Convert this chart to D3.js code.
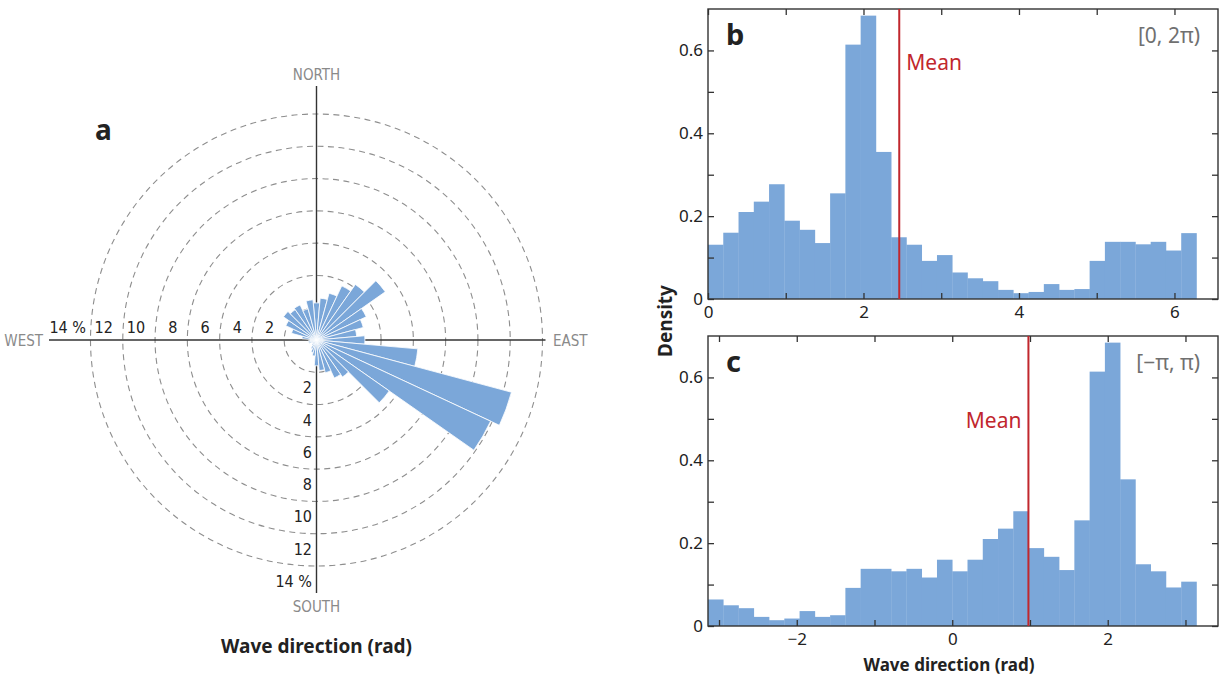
<!DOCTYPE html>
<html>
<head>
<meta charset="utf-8">
<script src="https://cdn.jsdelivr.net/npm/d3@7"></script>
<style>
  body { margin: 0; background: #fff; }
  svg { display: block; }
  .narrow { font-family: 'DejaVu Sans', sans-serif; font-stretch: condensed; }
</style>
</head>
<body>
<svg id="chart" width="1222" height="677"></svg>
<script>
const barColor = "#7ba7d9"
const meanColor = "#c1272d"
const axisColor = "#333"
const labelFont = "'Noto Sans', 'Open Sans', sans-serif"

// panel a: percent of observations per 10 degree sector, sector centres in degrees from north
const roseSectors = d3.range(0, 360, 10)
const rosePercent = [2.3, 2.6, 3.0, 3.7, 4.2, 5.2, 3.4, 3.0, 2.5, 3.0, 6.3, 12.5,
                     11.9, 5.5, 2.8, 2.6, 2.1, 1.9, 1.6, 1.0, 0.8, 0.6, 0.4, 0.3,
                     0.3, 0.5, 0.5, 0.4, 0.9, 1.6, 2.1, 2.5, 2.3, 2.4, 2.0, 2.5]
const roseRings = [2, 4, 6, 8, 10, 12, 14]
const compass = ["NORTH", "EAST", "SOUTH", "WEST"]

// panel b: density, 32 bins on [0, 2pi)
const densityB = [0.131, 0.160, 0.210, 0.235, 0.277, 0.189, 0.167, 0.135,
                  0.255, 0.614, 0.684, 0.355, 0.149, 0.131, 0.092, 0.106,
                  0.064, 0.050, 0.043, 0.022, 0.014, 0.017, 0.036, 0.022,
                  0.024, 0.092, 0.138, 0.138, 0.132, 0.138, 0.117, 0.159]
const meanB = 2.46

// panel c: density, 32 bins on [-pi, pi)
const densityC = [0.064, 0.050, 0.043, 0.022, 0.014, 0.018, 0.036, 0.022,
                  0.026, 0.092, 0.138, 0.138, 0.132, 0.138, 0.117, 0.160,
                  0.132, 0.160, 0.210, 0.235, 0.277, 0.188, 0.167, 0.135,
                  0.255, 0.614, 0.684, 0.354, 0.149, 0.132, 0.093, 0.107]
const meanC = 0.98

const xTicksB = [0, 1, 2, 3, 4, 5, 6]
const xLabelsB = [0, 2, 4, 6]
const xTicksC = [-3, -2, -1, 0, 1, 2, 3]
const xLabelsC = [-2, 0, 2]
const yTicks = [0, 0.1, 0.2, 0.3, 0.4, 0.5, 0.6]
const yLabels = [0, 0.2, 0.4, 0.6]

const svg = d3.select("#chart")

// ---------- panel a: rose ----------
const cx = 316.5
const cy = 340
const r = d3.scaleLinear().domain([0, 14]).range([0, 226])

const gA = svg.append("g").attr("transform", `translate(${cx}, ${cy})`)

gA.selectAll(".ring")
    .data(roseRings)
    .join("circle")
        .attr("class", "ring")
        .attr("r", d => r(d))
        .attr("fill", "none")
        .attr("stroke", "#8e8e8e")
        .attr("stroke-width", 1.1)
        .attr("stroke-dasharray", "6,4.5")

gA.append("line")
    .attr("x1", -267.5).attr("x2", 229)
    .attr("stroke", axisColor).attr("stroke-width", 1.4)
gA.append("line")
    .attr("y1", -254).attr("y2", 253)
    .attr("stroke", axisColor).attr("stroke-width", 1.4)

const arc = d3.arc().innerRadius(0)
const rad = deg => deg * Math.PI / 180

gA.selectAll(".petal")
    .data(rosePercent)
    .join("path")
        .attr("class", "petal")
        .attr("d", (d, i) => arc({
            outerRadius: r(d),
            startAngle: rad(roseSectors[i] - 5),
            endAngle: rad(roseSectors[i] + 5)
        }))
        .attr("fill", barColor)
        .attr("stroke", "#fff")
        .attr("stroke-width", 0.8)

// ring labels along west and south
gA.selectAll(".wlab")
    .data(roseRings)
    .join("text")
        .attr("class", "narrow")
        .attr("x", d => d === 14 ? -r(d) - 4.5 : -r(d) - 10)
        .attr("y", -7)
        .attr("text-anchor", "end")
        .style("font-size", "16px")
        .style("fill", "#222")
        .text(d => d === 14 ? "14 %" : d)

gA.selectAll(".slab")
    .data(roseRings)
    .join("text")
        .attr("class", "narrow")
        .attr("x", -4.5)
        .attr("y", d => r(d) + 21)
        .attr("text-anchor", "end")
        .style("font-size", "16px")
        .style("fill", "#222")
        .text(d => d === 14 ? "14 %" : d)

const compassPos = {
    NORTH: [0, -260, "middle"],
    EAST: [236.5, 6, "start"],
    SOUTH: [0, 272, "middle"],
    WEST: [-273.5, 6, "end"]
}
gA.selectAll(".dir")
    .data(compass)
    .join("text")
        .attr("class", "narrow")
        .attr("x", d => compassPos[d][0])
        .attr("y", d => compassPos[d][1])
        .attr("text-anchor", d => compassPos[d][2])
        .style("font-size", "15px")
        .style("fill", "#8a8a8a")
        .text(d => d)

svg.append("text")
    .attr("x", 95).attr("y", 140)
    .style("font-family", labelFont)
    .style("font-weight", "bold")
    .style("font-size", "28px")
    .style("fill", "#222")
    .text("a")

svg.append("text")
    .attr("x", cx).attr("y", 653)
    .attr("text-anchor", "middle")
    .style("font-family", labelFont)
    .style("font-weight", "bold")
    .style("font-size", "19px")
    .style("fill", "#222")
    .text("Wave direction (rad)")

// ---------- panels b and c: histograms ----------
const left = 708
const right = 1218
const binW = 2 * Math.PI / 32
const span = 6.56

function histPanel(opt) {
    const x = d3.scaleLinear().domain([opt.lo, opt.lo + span]).range([left, right])
    const y = d3.scaleLinear().domain([0, 0.7]).range([opt.bottom, opt.top])
    const g = svg.append("g")

    g.selectAll(".bar")
        .data(opt.values)
        .join("rect")
            .attr("class", "bar")
            .attr("x", (d, i) => x(opt.lo + i * binW))
            .attr("width", (d, i) => x(opt.lo + (i + 1) * binW) - x(opt.lo + i * binW) + 0.3)
            .attr("y", d => y(d))
            .attr("height", d => y(0) - y(d))
            .attr("fill", barColor)

    const fmt = d3.format("")
    const styleAxis = sel => {
        sel.select(".domain").remove()
        sel.selectAll(".tick line").attr("stroke", axisColor).attr("stroke-width", 1.3)
        sel.selectAll(".tick text")
            .style("font-family", labelFont)
            .style("font-size", "17px")
            .style("fill", "#222")
    }

    g.append("g")
        .attr("transform", `translate(0, ${opt.bottom})`)
        .call(d3.axisBottom(x).tickValues(opt.xTicks).tickSize(-6).tickPadding(7)
            .tickFormat(d => opt.xLabels.includes(d) ? fmt(d) : ""))
        .call(styleAxis)
    g.append("g")
        .attr("transform", `translate(0, ${opt.top})`)
        .call(d3.axisTop(x).tickValues(opt.xTicks).tickSize(-6).tickFormat(""))
        .call(styleAxis)
    g.append("g")
        .attr("transform", `translate(${left}, 0)`)
        .call(d3.axisLeft(y).tickValues(yTicks).tickSize(-6).tickPadding(5)
            .tickFormat(d => yLabels.includes(d) ? d3.format("")(d) : ""))
        .call(styleAxis)
    g.append("g")
        .attr("transform", `translate(${right}, 0)`)
        .call(d3.axisRight(y).tickValues(yTicks).tickSize(-6).tickFormat(""))
        .call(styleAxis)

    g.append("rect")
        .attr("x", left).attr("y", opt.top)
        .attr("width", right - left).attr("height", opt.bottom - opt.top)
        .attr("fill", "none")
        .attr("stroke", axisColor)
        .attr("stroke-width", 1.4)

    g.append("line")
        .attr("x1", x(opt.mean)).attr("x2", x(opt.mean))
        .attr("y1", y(0)).attr("y2", y(0.7))
        .attr("stroke", meanColor)
        .attr("stroke-width", 2)

    g.append("text")
        .attr("x", x(opt.mean) + opt.meanDx)
        .attr("y", opt.meanY)
        .attr("text-anchor", opt.meanDx > 0 ? "start" : "end")
        .style("font-family", labelFont)
        .style("font-size", "21px")
        .style("fill", meanColor)
        .text("Mean")

    g.append("text")
        .attr("x", 726).attr("y", opt.top + 36)
        .style("font-family", labelFont)
        .style("font-weight", "bold")
        .style("font-size", "29px")
        .style("fill", "#222")
        .text(opt.letter)

    g.append("text")
        .attr("x", 1200).attr("y", opt.top + 34)
        .attr("text-anchor", "end")
        .style("font-family", labelFont)
        .style("font-size", "21px")
        .style("fill", "#707070")
        .text(opt.range)
}

histPanel({
    lo: 0, top: 9, bottom: 299, values: densityB, mean: meanB,
    xTicks: xTicksB, xLabels: xLabelsB, letter: "b", range: "[0, 2\u03c0)",
    meanDx: 7, meanY: 70
})

histPanel({
    lo: -Math.PI, top: 336, bottom: 626, values: densityC, mean: meanC,
    xTicks: xTicksC, xLabels: xLabelsC, letter: "c", range: "[\u2212\u03c0, \u03c0)",
    meanDx: -7, meanY: 428
})

svg.append("text")
    .attr("transform", "translate(672, 321) rotate(-90)")
    .attr("text-anchor", "middle")
    .style("font-family", labelFont)
    .style("font-weight", "bold")
    .style("font-size", "19px")
    .style("fill", "#222")
    .text("Density")

svg.append("text")
    .attr("x", 949).attr("y", 671)
    .attr("text-anchor", "middle")
    .style("font-family", labelFont)
    .style("font-weight", "bold")
    .style("font-size", "17px")
    .style("fill", "#222")
    .text("Wave direction (rad)")
</script>
</body>
</html>
